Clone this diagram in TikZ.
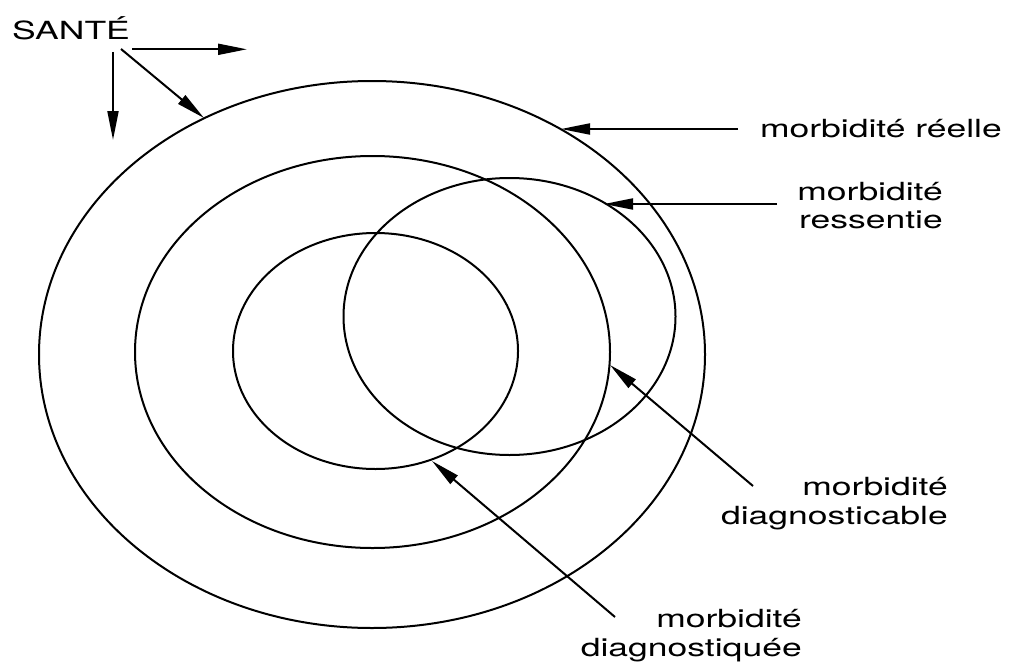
\documentclass[tikz,border=0pt]{standalone}
\usepackage{fontspec}
\setmainfont{TeX Gyre Heros}
\usepackage{graphicx}
\usetikzlibrary{arrows.meta}
\newcommand\widetxt[1]{\scalebox{1.42}[1]{#1}}
\begin{document}
\begin{tikzpicture}[x=1pt,y=-1pt,
  lbl/.style={inner sep=0pt, font=\fontsize{25}{28}\selectfont},
  ring/.style={draw, line width=2pt},
  pointer/.style={line width=2pt, -{Triangle[length=29pt,width=11pt]}}]
\useasboundingbox[fill=white] (0,0) rectangle (1011,661);
% rings
\draw[ring] (372,354.5) ellipse [x radius=333, y radius=273.5];
\draw[ring] (372.5,352) ellipse [x radius=237.5, y radius=196];
\draw[ring] (509.5,316.5) ellipse [x radius=166, y radius=138.5];
\draw[ring] (375.5,351) ellipse [x radius=142.5, y radius=118];
% labels
\node[lbl, anchor=base west] (sante) at (12,39.3) {\widetxt{SANTÉ}};
\node[lbl, anchor=base east] (reelle) at (1002,137.7) {\widetxt{morbidité réelle}};
\node[lbl, anchor=base east] (ress1) at (943,200.7) {\widetxt{morbidité}};
\node[lbl, anchor=base east] (ress2) at (943,228.3) {\widetxt{ressentie}};
\node[lbl, anchor=base east] (dcb1) at (948,495.7) {\widetxt{morbidité}};
\node[lbl, anchor=base east] (dcb2) at (948,524) {\widetxt{diagnosticable}};
\node[lbl, anchor=base east] (dqe1) at (802,627.7) {\widetxt{morbidité}};
\node[lbl, anchor=base east] (dqe2) at (802,656.7) {\widetxt{diagnostiquée}};
% arrow ends
\coordinate (s1) at (132,49.3);  \coordinate (s1e) at (247,49.3);
\coordinate (s2) at (121,49);    \coordinate (s2e) at (204,118);
\coordinate (s3) at (113,52);    \coordinate (s3e) at (113,140);
\coordinate (r0) at (738,129);   \coordinate (r1) at (561,129);
\coordinate (q0) at (777,204);   \coordinate (q1) at (604,204);
\coordinate (c0) at (753,486);   \coordinate (c1) at (610,365);
\coordinate (d0) at (615,617);   \coordinate (d1) at (432,461);
% arrows
\draw[pointer] (s1) -- (s1e);
\draw[pointer] (s2) -- (s2e);
\draw[pointer] (s3) -- (s3e);
\draw[pointer] (r0) -- (r1);
\draw[pointer] (q0) -- (q1);
\draw[pointer] (c0) -- (c1);
\draw[pointer] (d0) -- (d1);
\end{tikzpicture}
\end{document}
